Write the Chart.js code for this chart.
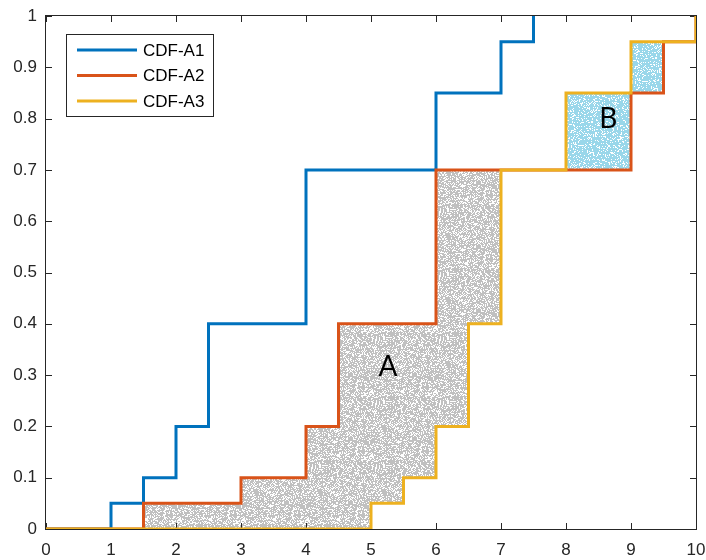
<!DOCTYPE html>
<html>
<head>
<meta charset="utf-8">
<script src="https://cdn.jsdelivr.net/npm/chart.js@4.4.1/dist/chart.umd.min.js"></script>
<style>
html, body { margin: 0; padding: 0; background: #fff; }
</style>
</head>
<body>
<canvas id="graficoCdf" width="706" height="560"></canvas>
<script>
// degraus das tres CDFs (x = onde sobe, y = valor depois do degrau)
const xA1 = [0, 1, 1.5, 2, 2.5, 4, 6, 7, 7.5];
const yA1 = [0, 0.05, 0.1, 0.2, 0.4, 0.7, 0.85, 0.95, 1];
const xA2 = [0, 1.5, 3, 4, 4.5, 6, 9, 9.5, 10];
const yA2 = [0, 0.05, 0.1, 0.2, 0.4, 0.7, 0.85, 0.95, 1];
const xA3 = [0, 5, 5.5, 6, 6.5, 7, 8, 9, 10];
const yA3 = [0, 0.05, 0.1, 0.2, 0.4, 0.7, 0.85, 0.95, 1];
const nomesSeries = ['CDF-A1', 'CDF-A2', 'CDF-A3'];

// rotulos das regioes
const textoRegioes = ['A', 'B'];
const xRegioes = [5.26, 8.65];
const yRegioes = [0.316, 0.80];

const corEixo = '#262626';
const fonteEixo = '"Liberation Sans", Arial, sans-serif';

function pontos(xs, ys) {
    return xs.map((x, i) => ({ x: x, y: ys[i] }));
}

// textura de pontinhos, imitando a nuvem do scatter
function texturaPontos(cor, densidade) {
    const c = document.createElement('canvas');
    c.width = 64; c.height = 64;
    const g = c.getContext('2d');
    g.fillStyle = cor;
    for (let i = 0; i < 64; i++) {
        for (let j = 0; j < 64; j++) {
            const h = Math.sin(i * 12.9898 + j * 78.233) * 43758.5453;
            if (h - Math.floor(h) < densidade) g.fillRect(i, j, 1, 1);
        }
    }
    return g.createPattern(c, 'repeat');
}

const molduraEixos = {
    id: 'molduraEixos',
    beforeDatasetsDraw(chart) {
        const { ctx, chartArea: a, scales } = chart;
        ctx.save();
        ctx.strokeStyle = corEixo;
        ctx.lineWidth = 1;
        ctx.strokeRect(a.left - 0.5, a.top - 0.5, a.right - a.left + 1, a.bottom - a.top + 1);
        ctx.beginPath();
        scales.x.ticks.forEach(t => {
            const px = Math.round(scales.x.getPixelForValue(t.value)) + 0.5;
            ctx.moveTo(px, a.bottom); ctx.lineTo(px, a.bottom - 6);
            ctx.moveTo(px, a.top); ctx.lineTo(px, a.top + 6);
        });
        scales.y.ticks.forEach(t => {
            const py = Math.round(scales.y.getPixelForValue(t.value)) + 0.5;
            ctx.moveTo(a.left, py); ctx.lineTo(a.left + 6, py);
            ctx.moveTo(a.right, py); ctx.lineTo(a.right - 6, py);
        });
        ctx.stroke();
        ctx.restore();
    }
};

const rotulosRegioes = {
    id: 'rotulosRegioes',
    afterDatasetsDraw(chart) {
        const { ctx, scales } = chart;
        ctx.save();
        ctx.font = '28px Lato, "Open Sans", sans-serif';
        ctx.fillStyle = '#000';
        ctx.textAlign = 'center';
        ctx.textBaseline = 'middle';
        textoRegioes.forEach((t, i) => {
            ctx.fillText(t, scales.x.getPixelForValue(xRegioes[i]), scales.y.getPixelForValue(yRegioes[i]));
        });
        ctx.restore();
    }
};

const legendaCaixa = {
    id: 'legendaCaixa',
    afterDraw(chart) {
        const ctx = chart.ctx;
        ctx.save();
        ctx.fillStyle = '#fff';
        ctx.fillRect(66, 34, 148, 83);
        ctx.strokeStyle = corEixo;
        ctx.lineWidth = 1;
        ctx.strokeRect(66.5, 34.5, 147, 82);
        ctx.font = '17px ' + fonteEixo;
        ctx.textBaseline = 'middle';
        chart.data.datasets.forEach((ds, i) => {
            const y = 50 + i * 25.5;
            ctx.strokeStyle = ds.borderColor;
            ctx.lineWidth = 3;
            ctx.beginPath();
            ctx.moveTo(77, y); ctx.lineTo(137, y);
            ctx.stroke();
            ctx.fillStyle = '#000';
            ctx.fillText(ds.label, 143, y + 1);
        });
        ctx.restore();
    }
};

const cinza = texturaPontos('#c0c0c0', 0.68);
const azulClaro = texturaPontos('#99d7ea', 0.8);

new Chart(document.getElementById('graficoCdf'), {
    type: 'line',
    data: {
        datasets: [
            {
                label: nomesSeries[0],
                data: pontos(xA1, yA1),
                borderColor: '#0072bd',
                order: 2,
                fill: false
            },
            {
                label: nomesSeries[1],
                data: pontos(xA2, yA2),
                borderColor: '#d95319',
                order: 1,
                fill: { target: 2, above: cinza, below: azulClaro }
            },
            {
                label: nomesSeries[2],
                data: pontos(xA3, yA3),
                borderColor: '#edb120',
                order: 0,
                fill: false
            }
        ]
    },
    options: {
        responsive: false,
        animation: false,
        events: [],
        datasets: {
            line: { stepped: 'before', borderWidth: 3, pointRadius: 0, tension: 0 }
        },
        layout: { padding: { top: 16, right: 10, left: 0, bottom: 0 } },
        plugins: {
            legend: { display: false },
            tooltip: { enabled: false },
            filler: { drawTime: 'beforeDatasetsDraw' }
        },
        scales: {
            x: {
                type: 'linear',
                min: 0,
                max: 10,
                ticks: { stepSize: 1, color: corEixo, padding: 11, font: { family: fonteEixo, size: 17 } },
                grid: { display: false, drawTicks: false },
                border: { display: false },
                afterFit(s) { s.height = 31; s.paddingLeft = 0; s.paddingRight = 0; }
            },
            y: {
                min: 0,
                max: 1,
                ticks: {
                    stepSize: 0.1,
                    color: corEixo,
                    padding: 9,
                    font: { family: fonteEixo, size: 17 },
                    callback: v => String(Number(v.toFixed(1)))
                },
                grid: { display: false, drawTicks: false },
                border: { display: false },
                afterFit(s) { s.width = 46; s.paddingTop = 0; s.paddingBottom = 0; }
            }
        }
    },
    plugins: [molduraEixos, rotulosRegioes, legendaCaixa]
});
</script>
</body>
</html>
